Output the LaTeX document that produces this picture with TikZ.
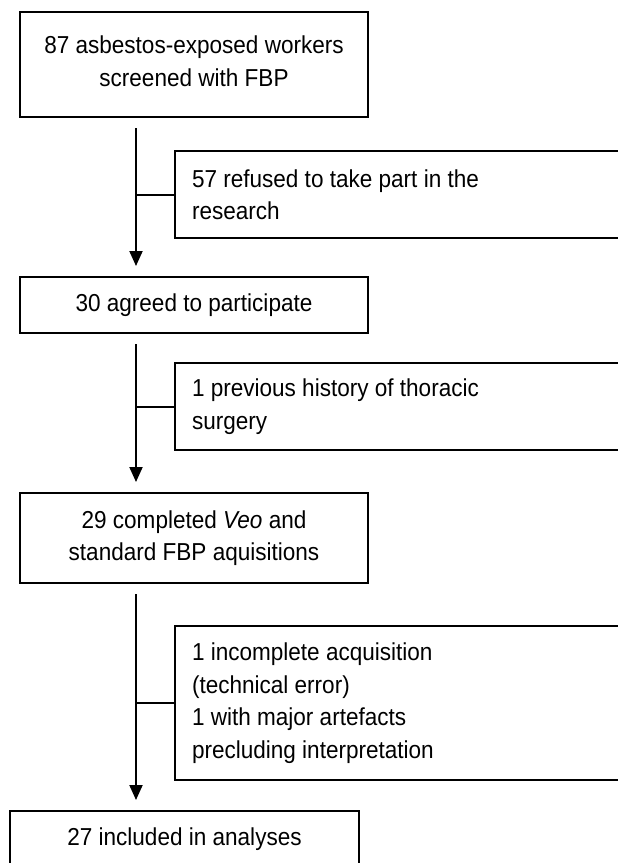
\documentclass[tikz,border=0pt]{standalone}
\usepackage{fontspec}
\setmainfont{Liberation Sans}[FakeStretch=0.92]
\usetikzlibrary{arrows.meta}
\newcommand\natsp{\spaceskip=0pt\xspaceskip=0pt\relax}
\begin{document}
\begin{tikzpicture}[x=1pt,y=-1pt,
  every node/.style={font=\fontsize{24.5}{32.5}\selectfont},
  mainbox/.style={draw, line width=2pt, minimum width=348pt, inner sep=0pt, align=center},
  sidebox/.style={draw, line width=2pt, text width=431pt, inner xsep=17pt, inner ysep=0pt, align=left},
  arr/.style={line width=2pt, -{Triangle[length=15pt,width=13pt]}, shorten <=10pt, shorten >=10pt},
  branch/.style={line width=2pt}]
\useasboundingbox (0,0) rectangle (618,863);
\clip (0,0) rectangle (618,863);
\coordinate (ax) at (136,0);
\node[mainbox, minimum height=105pt] (b1) at (194,64.5) {};
\node[align=center, inner sep=0pt] (t1) at ([yshift=3.5pt]b1.center) {87 asbestos-exposed workers\\screened with FBP};
\node[sidebox, minimum height=87pt] (s1) at (407.5,194.5) {\natsp 57 refused to take part in the\\research};
\node[mainbox, minimum height=56pt] (b2) at (194,305) {30 agreed to participate};
\node[sidebox, minimum height=87pt] (s2) at (407.5,406.5) {\natsp 1 previous history of thoracic\\surgery};
\node[mainbox, minimum height=90pt] (b3) at (194,538) {29 completed \textit{Veo} and\\standard FBP aquisitions};
\node[sidebox, minimum height=154pt] (s3) at (407.5,703) {\natsp 1 incomplete acquisition\\(technical error)\\1 with major artefacts\\precluding interpretation};
\node[mainbox, minimum width=349pt, minimum height=56pt] (b4) at (184.5,839) {27 included in analyses};
\draw[arr] (b1.south -| ax) -- (b2.north -| ax);
\draw[arr] (b2.south -| ax) -- (b3.north -| ax);
\draw[arr] (b3.south -| ax) -- (b4.north -| ax);
\draw[branch] (s1.west) -- (s1.west -| ax);
\draw[branch] (s2.west) -- (s2.west -| ax);
\draw[branch] (s3.west) -- (s3.west -| ax);
\end{tikzpicture}
\end{document}
